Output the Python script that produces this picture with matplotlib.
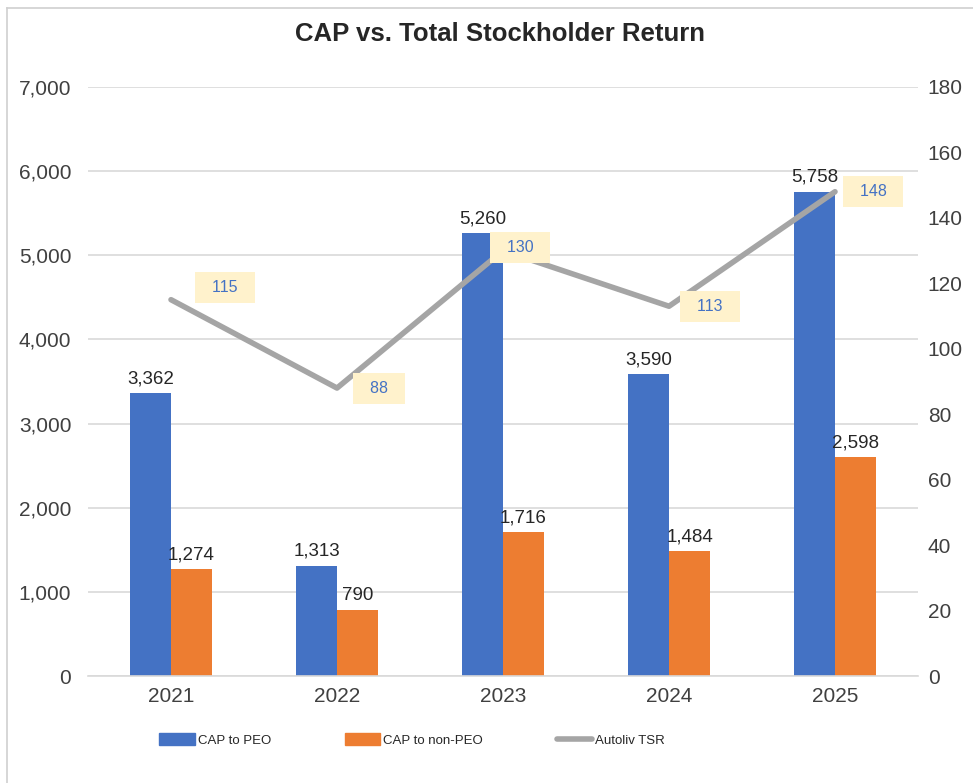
import matplotlib
matplotlib.use("Agg")
import matplotlib.pyplot as plt
from matplotlib.lines import Line2D
from matplotlib.ticker import FuncFormatter, MultipleLocator
import numpy as np

plt.rcParams['font.family'] = ['Liberation Sans', 'DejaVu Sans']

years = ["2021", "2022", "2023", "2024", "2025"]
cap_peo = [3362, 1313, 5260, 3590, 5758]
cap_non_peo = [1274, 790, 1716, 1484, 2598]
tsr = [115, 88, 130, 113, 148]

BLUE = "#4472C4"
ORANGE = "#ED7D31"
GRAY = "#A5A5A5"
TXT = "#404040"

W, H = 973, 783
fig = plt.figure(figsize=(W / 100, H / 100), dpi=100)
ax = fig.add_axes([88 / W, 1 - 676 / H, (918 - 88) / W, (676 - 87) / H])
ax2 = ax.twinx()

x = np.arange(len(years))
bw = 0.247
b1 = ax.bar(x - bw / 2, cap_peo, bw, color=BLUE, label="CAP to PEO", zorder=2)
b2 = ax.bar(x + bw / 2, cap_non_peo, bw, color=ORANGE, label="CAP to non-PEO", zorder=2)
fmt = lambda v: f"{v:,.0f}"
ax.bar_label(b1, labels=[fmt(v) for v in cap_peo], padding=4, fontsize=13.5, color="#262626")
ax.bar_label(b2, labels=[fmt(v) for v in cap_non_peo], padding=4, fontsize=13.5, color="#262626")

ax.set_xlim(-0.5, len(years) - 0.5)
ax.set_ylim(0, 7000)
ax.yaxis.set_major_locator(MultipleLocator(1000))
ax.yaxis.set_major_formatter(FuncFormatter(lambda v, p: f"{v:,.0f}"))
ax.set_xticks(x)
ax.set_xticklabels(years)
ax.grid(axis="y", color="#D9D9D9", linewidth=1.2, zorder=0)
ax.set_axisbelow(True)
for s in ["top", "right", "left"]:
    ax.spines[s].set_visible(False)
    ax2.spines[s].set_visible(False)
ax.spines["bottom"].set_color("#D9D9D9")
ax.spines["bottom"].set_linewidth(1.2)
ax2.spines["bottom"].set_visible(False)
ax.tick_params(axis="both", length=0, labelsize=15, colors=TXT)
ax.tick_params(axis="y", pad=12)
ax.tick_params(axis="x", pad=8)

ax2.plot(x, tsr, color=GRAY, linewidth=4, solid_capstyle="round", solid_joinstyle="round",
         label="Autoliv TSR", zorder=3)
ax2.set_ylim(0, 180)
ax2.yaxis.set_major_locator(MultipleLocator(20))
ax2.tick_params(axis="y", length=0, labelsize=15, colors=TXT, pad=7)

offsets = [(54, 12), (42, 0), (17, 3), (41, 0), (38, 0)]
for xi, v, (dx, dy) in zip(x, tsr, offsets):
    ax2.annotate(f"  {v}  ", (xi, v), xytext=(dx * 0.72, dy * 0.72), textcoords="offset points",
                 ha="center", va="center", fontsize=11.5, color=BLUE,
                 bbox=dict(boxstyle="square,pad=0.5", fc="#FFF2CC", ec="none"), zorder=5)

fig.text(500 / W, 1 - 34 / H, "CAP vs. Total Stockholder Return", ha="center", va="center",
         fontsize=18.5, fontweight="bold", color="#262626")

handles = [plt.Rectangle((0, 0), 1, 1, color=BLUE),
           plt.Rectangle((0, 0), 1, 1, color=ORANGE),
           Line2D([0], [0], color=GRAY, linewidth=4, solid_capstyle="round")]
labels = ["CAP to PEO", "CAP to non-PEO", "Autoliv TSR"]
fig.legend(handles, labels, loc="center", bbox_to_anchor=(412 / W, 1 - 740 / H), ncol=3,
           frameon=False, fontsize=9.5, handlelength=2.7, handleheight=1.0,
           handletextpad=0.2, columnspacing=5.6, labelcolor="#262626")

# figure border (left and top visible)
fig.add_artist(Line2D([7 / W, 7 / W], [0, 1 - 8 / H], color="#D0D0D0", linewidth=1.2))
fig.add_artist(Line2D([7 / W, 1], [1 - 8 / H, 1 - 8 / H], color="#D0D0D0", linewidth=1.2))

fig.savefig("out.png", dpi=100, facecolor="white")
